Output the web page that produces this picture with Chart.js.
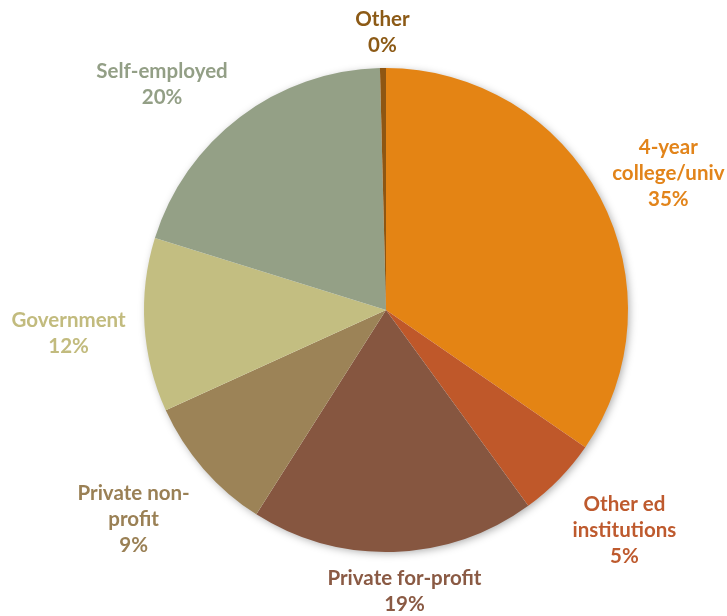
<!DOCTYPE html>
<html>
<head>
<meta charset="utf-8">
<script src="https://cdn.jsdelivr.net/npm/chart.js@4.4.1/dist/chart.umd.min.js"></script>
<style>
  html, body { margin: 0; padding: 0; background: #ffffff; }
  #wrap { width: 727px; height: 616px; position: relative; }
</style>
</head>
<body>
<div id="wrap"><canvas id="c" width="727" height="616"></canvas></div>
<script>
// Employment sector shares (percent of total)
const categories = [
  ['4-year', 'college/univ'],
  ['Other ed', 'institutions'],
  ['Private for-profit'],
  ['Private non-', 'profit'],
  ['Government'],
  ['Self-employed'],
  ['Other']
];
const shares = [34.6, 5.4, 19.0, 9.2, 11.6, 19.8, 0.4];
const sliceColors = ['#E48414', '#BF582A', '#865640', '#9C8357', '#C3BE81', '#94A086', '#8E5613'];
const labelColors = ['#E2841A', '#BE5A2E', '#8A5A44', '#9A8055', '#C2BB7E', '#939F86', '#8C5A16'];

// Label styling and small per-label nudges (px) applied after radial placement
const FONT = 'bold 20.5px Lato, "Open Sans", sans-serif';
const LINE_H = 26;
const GAP = 14;
const labelNudge = [[6, 1], [18, 14], [8, 0], [-17, 16], [-5, 6], [-30, -1], [0, 4]];

// Soft drop shadow behind the whole pie
const pieShadow = {
  id: 'pieShadow',
  beforeDatasetsDraw(chart) {
    const arc = chart.getDatasetMeta(0).data[0];
    if (!arc) return;
    const ctx = chart.ctx;
    ctx.save();
    ctx.shadowColor = 'rgba(0,0,0,0.35)';
    ctx.shadowBlur = 9;
    ctx.shadowOffsetX = 2;
    ctx.shadowOffsetY = 2;
    ctx.fillStyle = '#ffffff';
    ctx.beginPath();
    ctx.arc(arc.x, arc.y, arc.outerRadius - 1, 0, Math.PI * 2);
    ctx.fill();
    ctx.restore();
  }
};

// Category name and rounded percentage outside each slice
const outsideLabels = {
  id: 'outsideLabels',
  afterDatasetsDraw(chart) {
    const ctx = chart.ctx;
    const meta = chart.getDatasetMeta(0);
    const total = shares.reduce((a, b) => a + b, 0);
    ctx.save();
    ctx.font = FONT;
    ctx.textAlign = 'center';
    ctx.textBaseline = 'middle';
    meta.data.forEach((arc, i) => {
      const lines = categories[i].concat([Math.round(shares[i] / total * 100) + '%']);
      const w = Math.max(...lines.map(l => ctx.measureText(l).width));
      const h = lines.length * LINE_H;
      const mid = (arc.startAngle + arc.endAngle) / 2;
      const dx = Math.cos(mid), dy = Math.sin(mid);
      const ax = arc.x + dx * (arc.outerRadius + GAP);
      const ay = arc.y + dy * (arc.outerRadius + GAP);
      const cx = ax + dx * w / 2 + labelNudge[i][0];
      const cy = ay + dy * h / 2 + labelNudge[i][1];
      ctx.fillStyle = labelColors[i];
      lines.forEach((l, k) => {
        ctx.fillText(l, cx, cy - h / 2 + LINE_H * (k + 0.5));
      });
    });
    ctx.restore();
  }
};

new Chart(document.getElementById('c'), {
  type: 'pie',
  data: {
    labels: categories.map(c => c.join(' ')),
    datasets: [{
      data: shares,
      backgroundColor: sliceColors,
      borderWidth: 0
    }]
  },
  options: {
    responsive: false,
    animation: false,
    layout: { padding: { left: 144, right: 99, top: 68, bottom: 64 } },
    plugins: {
      legend: { display: false },
      tooltip: { enabled: false }
    }
  },
  plugins: [pieShadow, outsideLabels]
});
</script>
</body>
</html>
